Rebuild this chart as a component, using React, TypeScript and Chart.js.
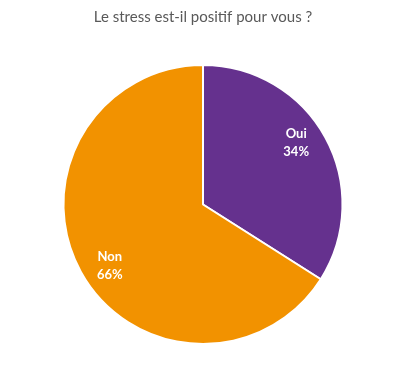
import React, { useEffect, useRef } from "react";
import { Chart, registerables } from "chart.js";

Chart.register(...registerables);

const categories = ["Oui", "Non"];
const values = [34, 66];
const percentLabels = ["34%", "66%"];
const colors = ["#65318E", "#F29200"];
const titleText = "Le stress est-il positif pour vous ?";

const labelPlugin = {
  id: "sliceLabels",
  afterDatasetsDraw(chart: any) {
    const ctx = chart.ctx;
    const meta = chart.getDatasetMeta(0);
    ctx.save();
    ctx.fillStyle = "#ffffff";
    ctx.font = "bold 13px Lato, 'Open Sans', sans-serif";
    ctx.textAlign = "center";
    ctx.textBaseline = "middle";
    meta.data.forEach((arc: any, i: number) => {
      const mid = (arc.startAngle + arc.endAngle) / 2 - 0.08;
      const r = arc.outerRadius * 0.8;
      const x = arc.x + Math.cos(mid) * r;
      const y = arc.y + Math.sin(mid) * r;
      ctx.fillText(categories[i], x, y - 9);
      ctx.fillText(percentLabels[i], x, y + 9);
    });
    ctx.restore();
  },
};

export default function App() {
  const ref = useRef<HTMLCanvasElement>(null);
  useEffect(() => {
    document.body.style.margin = "0";
    const chart = new Chart(ref.current!, {
      type: "pie",
      data: {
        labels: categories,
        datasets: [
          {
            data: values,
            backgroundColor: colors,
            borderColor: "#ffffff",
            borderWidth: 2,
          },
        ],
      },
      options: {
        animation: false,
        responsive: false,
        layout: { padding: { top: 0, bottom: 38, left: 0, right: 0 } },
        plugins: {
          legend: { display: false },
          tooltip: { enabled: false },
          title: {
            display: true,
            text: titleText,
            color: "#595959",
            font: { family: "Lato, 'Open Sans', sans-serif", size: 15, weight: "normal" },
            padding: { top: 8, bottom: 38 },
          },
        },
      },
      plugins: [labelPlugin],
    });
    return () => chart.destroy();
  }, []);
  return (
    <div style={{ width: 406, height: 383, background: "#fff" }}>
      <canvas ref={ref} width={406} height={383} />
    </div>
  );
}
